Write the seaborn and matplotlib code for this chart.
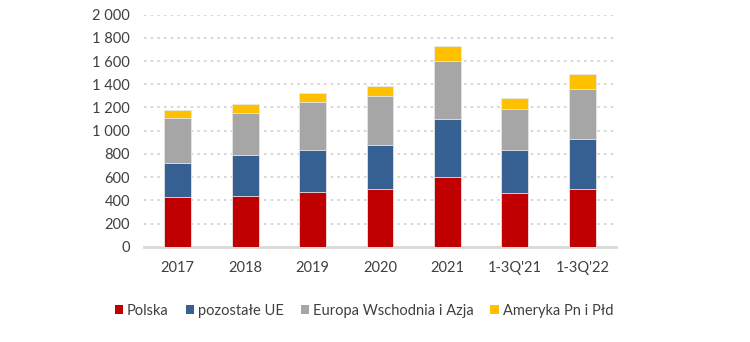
import numpy as np
import pandas as pd
import matplotlib
matplotlib.use("Agg")
import matplotlib.pyplot as plt
import seaborn as sns

categories = ["2017", "2018", "2019", "2020", "2021", "1-3Q'21", "1-3Q'22"]
polska = [430, 440, 469, 497, 603, 460, 495]
pozostale_ue = [294, 353, 367, 382, 500, 373, 433]
europa_wsch_azja = [383, 362, 414, 423, 498, 354, 429]
ameryka = [71, 72, 75, 83, 126, 95, 132]

series_names = ["Polska", "pozostałe UE", "Europa Wschodnia i Azja", "Ameryka Pn i Płd"]
series_vals = [polska, pozostale_ue, europa_wsch_azja, ameryka]
colors = ["#C00000", "#376092", "#A6A6A6", "#FFC000"]
yticks = [0, 200, 400, 600, 800, 1000, 1200, 1400, 1600, 1800, 2000]

sns.set_theme(style="white")
plt.rcParams["font.family"] = ["Lato", "DejaVu Sans"]

fig = plt.figure(figsize=(7.5, 3.42), dpi=100)
ax = fig.add_axes([144 / 750, 1 - 246.7 / 342, 472 / 750, 232 / 342])

cum = np.cumsum(np.array(series_vals), axis=0)
for i in range(len(series_names) - 1, -1, -1):
    df = pd.DataFrame({"cat": categories, "val": cum[i]})
    sns.barplot(data=df, x="cat", y="val", color=colors[i], width=0.4,
                ax=ax, saturation=1, edgecolor="#e8e8e8", linewidth=0.6,
                label=series_names[i], zorder=3)

handles, labels = ax.get_legend_handles_labels()
if ax.get_legend() is not None:
    ax.get_legend().remove()

ax.set_ylim(0, 2000)
ax.set_xlim(-0.5, len(categories) - 0.5)
ax.set_yticks(yticks)
ax.set_yticklabels([f"{v:,}".replace(",", " ") for v in yticks])
ax.set_xlabel("")
ax.set_ylabel("")
ax.yaxis.grid(True, linestyle=(0, (1.5, 2.5)), color="#d0d0d0", linewidth=1.2, zorder=0)
ax.xaxis.grid(False)
for s in ["left", "right", "top"]:
    ax.spines[s].set_visible(False)
ax.spines["bottom"].set_color("#d9d9d9")
ax.spines["bottom"].set_linewidth(2)
ax.tick_params(axis="both", length=0, labelsize=10.5, labelcolor="#404040")
ax.tick_params(axis="y", pad=10)
ax.tick_params(axis="x", pad=10)

order = [labels.index(n) for n in series_names]
leg = fig.legend([handles[k] for k in order], [labels[k] for k in order],
                 loc="center", bbox_to_anchor=(364 / 750, 1 - 311 / 342), ncol=4,
                 frameon=False, fontsize=10.5, handlelength=0.55, handleheight=0.55,
                 handletextpad=0.3, columnspacing=1.15)
for t in leg.get_texts():
    t.set_color("#404040")
for h in leg.legend_handles:
    h.set_edgecolor("none")

fig.savefig("out.png", dpi=100)
